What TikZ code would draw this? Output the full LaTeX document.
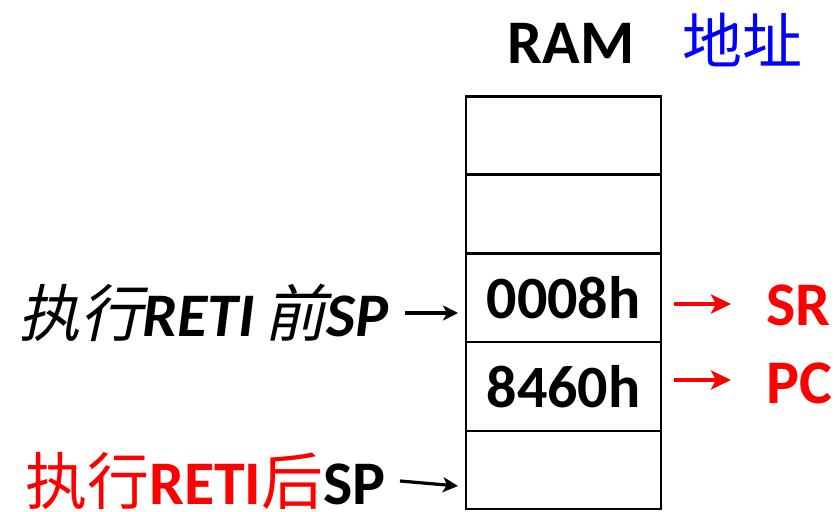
\documentclass[tikz,border=0pt]{standalone}
\usepackage{fontspec}
\setmainfont{Carlito}
\newfontfamily\cjk{Noto Sans CJK SC}[BoldFont=Noto Sans CJK SC]
\newfontfamily\cjkit{Noto Sans CJK SC}[FakeSlant=0.22]
\usetikzlibrary{arrows.meta}
\definecolor{pred}{RGB}{255,0,0}
\definecolor{pblue}{RGB}{0,0,255}
\tikzset{
  cell/.style={draw, line width=2.6pt, minimum width=195pt, inner sep=0pt, outer sep=0pt, font=\fontsize{60}{62}\selectfont\bfseries},
  lbl/.style={inner sep=0pt, font=\fontsize{62}{62}\selectfont\bfseries},
  barr/.style={line width=3.2pt, -{Stealth[length=15pt,width=15pt,inset=4pt]}},
  rarr/.style={line width=3.8pt, pred, -{Stealth[length=20pt,width=19pt,inset=5pt]}}
}
\begin{document}
\begin{tikzpicture}[x=1pt,y=-1pt]
\useasboundingbox (0,0) rectangle (837,511);
\node[cell, minimum height=78.5pt] (c1) at (563.5,135.5) {};
\node[cell, minimum height=78.5pt] (c2) at (563.5,214) {};
\node[cell, minimum height=89pt] (c3) at (563.5,297.5) {0008h};
\node[cell, minimum height=89pt] (c4) at (563.5,386.5) {8460h};
\node[cell, minimum height=78pt] (c5) at (563.5,470) {};
\node[lbl] (ram) at (571,43) {RAM};
\node[lbl, text=pblue, font=\fontsize{60}{62}\selectfont\cjk] (addr) at (742,40) {地址};
\node[lbl, anchor=west, text=pred] (sr) at (766,305) {SR};
\node[lbl, anchor=west, text=pred] (pc) at (766,383) {PC};
\node[lbl, anchor=east] (before) at (389,313) {\itshape{\cjkit\mdseries\upshape 执行}RETI\,{\cjkit\mdseries\upshape 前}SP};
\node[lbl, anchor=east] (after) at (386,481) {\textcolor{pred}{{\cjk 执行}RETI{\cjk 后}}SP};
\coordinate (b1) at (458,313);
\coordinate (b2) at (458,486);
\draw[barr] ([xshift=16pt]before.east) -- (b1);
\draw[barr] ([xshift=14pt]after.east) -- (b2);
\coordinate (sA) at (674,304);
\coordinate (sB) at (731,304);
\coordinate (pA) at (674,380);
\coordinate (pB) at (731,380);
\draw[rarr] (sA) -- (sB);
\draw[rarr] (pA) -- (pB);
\end{tikzpicture}
\end{document}
